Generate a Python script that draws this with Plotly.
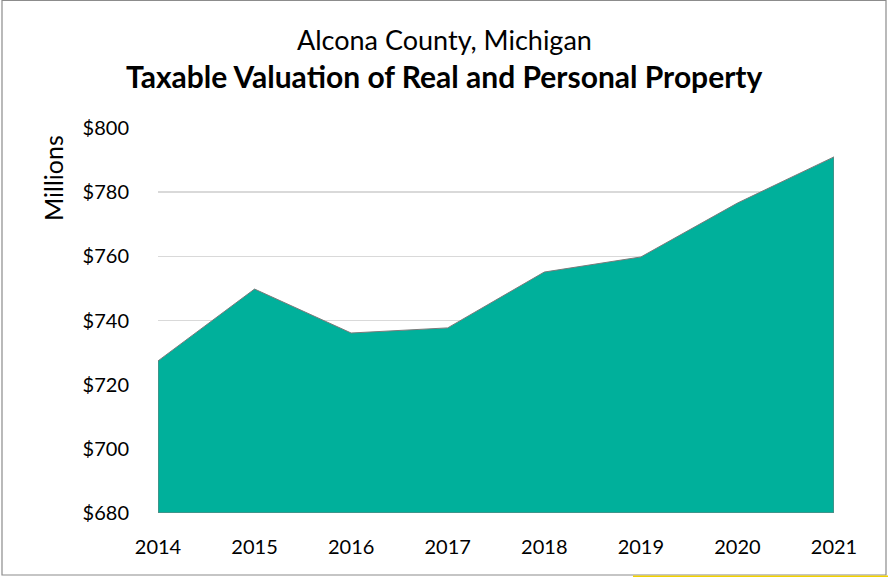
import plotly.graph_objects as go

years = [2014, 2015, 2016, 2017, 2018, 2019, 2020, 2021]
values = [727.4, 749.8, 736.1, 737.7, 755.1, 759.8, 776.6, 791.0]
y_ticks = [680, 700, 720, 740, 760, 780, 800]
y_tick_labels = ["$680", "$700", "$720", "$740", "$760", "$780", "$800"]
title_line1 = "Alcona County, Michigan"
title_line2 = "Taxable Valuation of Real and Personal Property"
y_title = "Millions"

W, H = 888, 577
L, R, T, B = 158, 54, 128, 64
pw, ph = W - L - R, H - T - B
FONT = "Lato"
ymin, ymax = y_ticks[0], y_ticks[-1]

def px(x):
    return (x - L) / pw

def py(y):
    return (H - B - y) / ph

xs = years + [years[-1], years[0], years[0]]
ys = values + [ymin, ymin, values[0]]

fig = go.Figure()
fig.add_trace(go.Scatter(
    x=xs, y=ys, mode="lines", fill="toself",
    fillcolor="#00B09B", line=dict(color="#7a7a7a", width=1),
    hoverinfo="skip", showlegend=False,
))

fig.update_layout(
    width=W, height=H,
    margin=dict(l=L, r=R, t=T, b=B),
    paper_bgcolor="white", plot_bgcolor="white",
    font=dict(family=FONT, color="#000000"),
    xaxis=dict(
        range=[years[0], years[-1]], tickmode="array", tickvals=years,
        ticktext=[str(y) for y in years], showgrid=False, zeroline=False,
        showline=False, ticks="", tickfont=dict(size=20, family=FONT),
        ticklabelstandoff=20,
    ),
    yaxis=dict(
        range=[ymin, ymax], tickmode="array", tickvals=y_ticks,
        ticktext=y_tick_labels, showgrid=True, gridcolor="#d9d9d9", gridwidth=1.5,
        zeroline=False, showline=False, ticks="",
        tickfont=dict(size=20, family=FONT), ticklabelstandoff=28,
    ),
    annotations=[
        dict(text=title_line1, x=px(444), y=py(40), xref="paper", yref="paper",
             showarrow=False, font=dict(size=27, family=FONT), xanchor="center", yanchor="middle"),
        dict(text="<b>" + title_line2 + "</b>", x=px(444), y=py(76), xref="paper", yref="paper",
             showarrow=False, font=dict(size=30, family=FONT), xanchor="center", yanchor="middle"),
        dict(text=y_title, x=px(53), y=py(178), xref="paper", yref="paper", textangle=-90,
             showarrow=False, font=dict(size=25, family=FONT), xanchor="center", yanchor="middle"),
    ],
    shapes=[
        dict(type="rect", xref="paper", yref="paper", x0=px(2), x1=px(886), y0=py(575), y1=py(0.5),
             line=dict(color="#8c8c8c", width=1.2), fillcolor="rgba(0,0,0,0)", layer="above"),
        dict(type="line", xref="paper", yref="paper", x0=px(633), x1=px(888), y0=py(576.5), y1=py(576.5),
             line=dict(color="#f2d100", width=2)),
    ],
)

fig.write_html("out.html", config={"displayModeBar": False, "staticPlot": True},
               post_script="document.body.style.margin='0';document.body.style.overflow='hidden';")
